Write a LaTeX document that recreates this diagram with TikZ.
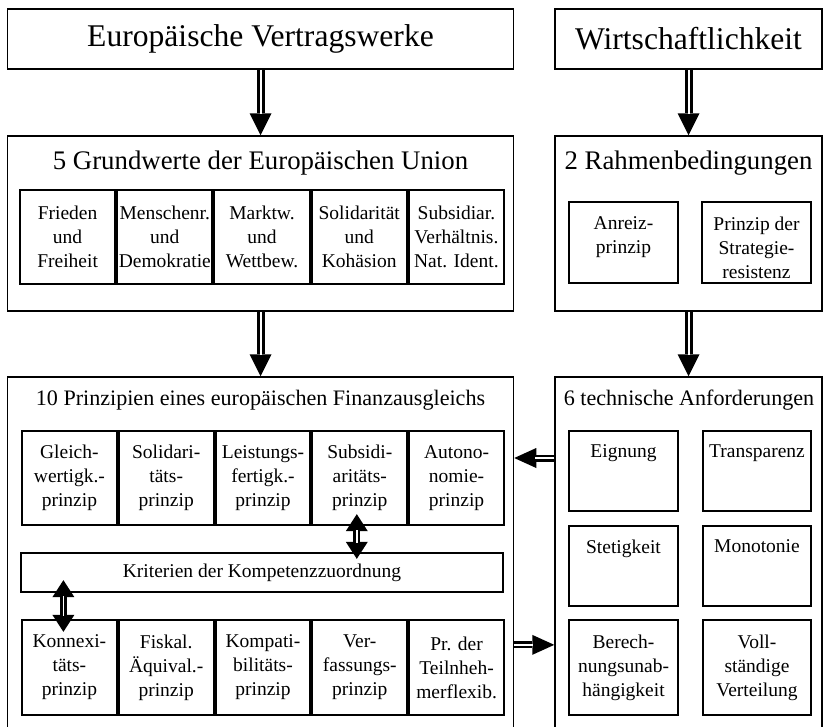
\documentclass[tikz,border=0pt]{standalone}
\usepackage{fontspec}
\setmainfont{Liberation Serif}
\usetikzlibrary{arrows.meta,calc}
\begin{document}
\begin{tikzpicture}[x=1pt,y=-1pt,
  outer/.style={draw, line width=1.5pt, inner sep=0pt},
  bigtitle/.style={inner sep=0pt, font=\fontsize{31.6}{37}\selectfont},
  midtitle/.style={inner sep=0pt, font=\fontsize{26.8}{32}\selectfont},
  smalltitle/.style={inner sep=0pt, font=\fontsize{22.1}{27}\selectfont},
  inbox/.style={draw, line width=2.3pt, inner sep=0pt, align=center, font=\fontsize{19.5}{24}\selectfont},
  btext/.style={inner sep=0pt, align=center, anchor=north, font=\fontsize{19.5}{24}\selectfont},
  bigarrow/.style={line width=8pt, -{Triangle[width=22pt,length=22pt,line width=0pt]},
    postaction={draw=white, line width=2pt, arrows=-, shorten >=21pt}},
  harrow/.style={line width=7pt, -{Triangle[width=20pt,length=22pt,line width=0pt]},
    postaction={draw=white, line width=1.8pt, arrows=-, shorten >=21pt}},
  dblarrow/.style={line width=7pt, {Triangle[width=22pt,length=17pt,line width=0pt]}-{Triangle[width=22pt,length=17pt,line width=0pt]},
    postaction={draw=white, line width=1.8pt, arrows=-, shorten >=16pt, shorten <=16pt}}
]
\clip (0,0) rectangle (824,726);

% top boxes
\node[outer, bigtitle, minimum width=506pt, minimum height=60pt] (ev) at (260.5,39) {Europäische Vertragswerke};
\node[outer, bigtitle, minimum width=267pt, minimum height=60pt] (wi) at (688.5,39) {Wirtschaftlichkeit};

% Grundwerte
\node[outer, minimum width=506pt, minimum height=175pt] (gw) at (260.5,223.5) {};
\node[midtitle] (gwt) at (260.5,163) {5 Grundwerte der Europäischen Union};
\node[inbox, minimum width=95.5pt, minimum height=94pt] (g1) at (67.6,237) {Frieden\\und\\Freiheit};
\node[inbox, minimum width=95.5pt, minimum height=94pt] (g2) at (164.8,237) {Menschenr.\\und\\Demokratie};
\node[inbox, minimum width=95.5pt, minimum height=94pt] (g3) at (262,237) {Marktw.\\und\\Wettbew.};
\node[inbox, minimum width=95.5pt, minimum height=94pt] (g4) at (359.2,237) {Solidarität\\und\\Kohäsion};
\node[inbox, minimum width=95.5pt, minimum height=94pt] (g5) at (456.4,237) {Subsidiar.\\Verhältnis.\\Nat. Ident.};

% Rahmenbedingungen
\node[outer, minimum width=267pt, minimum height=175pt] (rb) at (688.5,223.5) {};
\node[midtitle] (rbt) at (688.5,163) {2 Rahmenbedingungen};
\node[inbox, minimum width=109pt, minimum height=81pt] (ra) at (623.5,242.5) {};
\node[btext] (rat) at ([yshift=-16pt]ra.north) {Anreiz-\\prinzip};
\node[inbox, minimum width=109pt, minimum height=81pt] (rp) at (756.5,242.5) {};
\node[btext] (rpt) at ([yshift=-16pt]rp.north) {Prinzip der\\Strategie-\\resistenz};

% 10 Prinzipien
\node[outer, minimum width=506pt, minimum height=383pt] (fp) at (260.5,568.5) {};
\node[smalltitle] (fpt) at (260.5,400) {10 Prinzipien eines europäischen Finanzausgleichs};
\node[inbox, minimum width=95pt, minimum height=94pt] (p1) at (69.4,478) {Gleich-\\wertigk.-\\prinzip};
\node[inbox, minimum width=95pt, minimum height=94pt] (p2) at (166.2,478) {Solidari-\\täts-\\prinzip};
\node[inbox, minimum width=95pt, minimum height=94pt] (p3) at (263,478) {Leistungs-\\fertigk.-\\prinzip};
\node[inbox, minimum width=95pt, minimum height=94pt] (p4) at (359.8,478) {Subsidi-\\aritäts-\\prinzip};
\node[inbox, minimum width=95pt, minimum height=94pt] (p5) at (456.6,478) {Autono-\\nomie-\\prinzip};
\node[inbox, minimum width=482pt, minimum height=39pt] (kr) at (262,572.5) {Kriterien der Kompetenzzuordnung};
\node[inbox, minimum width=95pt, minimum height=95pt] (q1) at (69.4,667.5) {Konnexi-\\täts-\\prinzip};
\node[inbox, minimum width=95pt, minimum height=95pt] (q2) at (166.2,667.5) {Fiskal.\\Äquival.-\\prinzip};
\node[inbox, minimum width=95pt, minimum height=95pt] (q3) at (263,667.5) {Kompati-\\bilitäts-\\prinzip};
\node[inbox, minimum width=95pt, minimum height=95pt] (q4) at (359.8,667.5) {Ver-\\fassungs-\\prinzip};
\node[inbox, minimum width=95pt, minimum height=95pt] (q5) at (456.6,667.5) {Pr. der\\Teilnheh-\\merflexib.};

% technische Anforderungen
\node[outer, minimum width=267pt, minimum height=383pt] (ta) at (688.5,568.5) {};
\node[smalltitle] (tat) at (689,400) {6 technische Anforderungen};
\node[inbox, minimum width=109pt, minimum height=80pt] (t1) at (623.5,471) {};
\node[btext] (t1t) at ([yshift=-15pt]t1.north) {Eignung};
\node[inbox, minimum width=108pt, minimum height=80pt] (t2) at (757,471) {};
\node[btext] (t2t) at ([yshift=-15pt]t2.north) {Transparenz};
\node[inbox, minimum width=109pt, minimum height=80pt] (t3) at (623.5,566) {};
\node[btext] (t3t) at ([yshift=-15pt]t3.north) {Stetigkeit};
\node[inbox, minimum width=108pt, minimum height=80pt] (t4) at (757,566) {};
\node[btext] (t4t) at ([yshift=-15pt]t4.north) {Monotonie};
\node[inbox, minimum width=109pt, minimum height=95pt] (t5) at (623.5,667.5) {Berech-\\nungsunab-\\hängigkeit};
\node[inbox, minimum width=108pt, minimum height=95pt] (t6) at (757,667.5) {Voll-\\ständige\\Verteilung};

% arrows
\draw[bigarrow] (ev.south) -- (gw.north);
\draw[bigarrow] (gw.south) -- (fp.north);
\draw[bigarrow] (wi.south) -- (rb.north);
\draw[bigarrow] (rb.south) -- (ta.north);
\draw[harrow] ($(ta.west |- t1.center)+(0,-13)$) -- ($(fp.east |- t1.center)+(0,-13)$);
\draw[harrow] ($(fp.east |- t5.north)+(0,26)$) -- ($(ta.west |- t5.north)+(0,26)$);
\draw[dblarrow] ($(p4.south)+(-3,-12)$) -- ($(p4.south |- kr.north)+(-3,7)$);
\draw[dblarrow] ($(q1.north |- kr.south)+(-6,-13)$) -- ($(q1.north)+(-6,13)$);
\end{tikzpicture}
\end{document}
